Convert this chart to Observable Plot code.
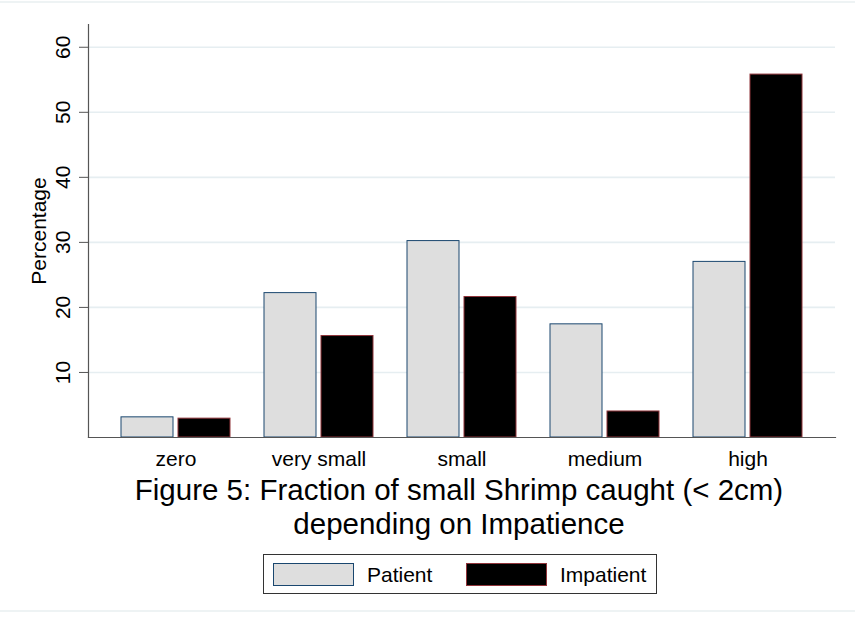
<!DOCTYPE html>
<html>
<head>
<meta charset="utf-8">
<script src="https://cdn.jsdelivr.net/npm/d3@7"></script>
<script src="https://cdn.jsdelivr.net/npm/@observablehq/plot@0.6"></script>
<style>
  html, body { margin: 0; padding: 0; background: #fff; }
  #wrap { position: relative; width: 855px; height: 625px; font-family: "Liberation Sans", Arial, sans-serif; overflow: hidden; }
  .edge { position: absolute; left: 0; width: 855px; height: 2px; background: #eef3f4; }
  #chart { position: absolute; left: 0; top: 0; }
  #chart svg { overflow: visible; }
  #title { position: absolute; left: 0; width: 918px; top: 473px; text-align: center; font-size: 29.5px; line-height: 34px; color: #000; }
  #legend { position: absolute; left: 263px; top: 554px; width: 392px; height: 38px; border: 1px solid #333; box-sizing: content-box; }
  .sw { position: absolute; top: 8px; width: 79px; height: 21px; }
  .lt { position: absolute; top: 8px; font-size: 21px; line-height: 23px; color: #000; }
</style>
</head>
<body>
<div id="wrap">
  <div class="edge" style="top:1px"></div>
  <div id="chart"></div>
  <div id="title"></div>
  <div id="legend"></div>
  <div class="edge" style="top:610px"></div>
</div>
<script>
const categories = ["zero", "very small", "small", "medium", "high"];
const patient = [3.1, 22.2, 30.2, 17.4, 27.0];
const impatient = [2.9, 15.6, 21.6, 4.0, 55.8];
const yTicks = [10, 20, 30, 40, 50, 60];
const seriesNames = ["Patient", "Impatient"];
const titleLines = ["Figure 5: Fraction of small Shrimp caught (< 2cm)", "depending on Impatience"];
const yLabel = "Percentage";

const rowsP = categories.map((c, i) => ({category: c, value: patient[i]}));
const rowsI = categories.map((c, i) => ({category: c, value: impatient[i]}));

const font = '"Liberation Sans", Arial, sans-serif';

const plot = Plot.plot({
  width: 855,
  height: 460,
  marginLeft: 88,
  marginRight: 20,
  marginTop: 24,
  marginBottom: 23,
  style: {fontFamily: font, fontSize: "21px", color: "#000", background: "transparent"},
  x: {domain: categories, paddingInner: 0.24, paddingOuter: 0.22, label: null},
  y: {domain: [0, 63.5], label: null},
  marks: [
    Plot.gridY(yTicks, {stroke: "#e6eef1", strokeOpacity: 1, strokeWidth: 1.6}),
    Plot.barY(rowsP, {x: "category", y: "value", fill: "#dedede", stroke: "#1a476f", strokeWidth: 1, insetLeft: 0, insetRight: 57}),
    Plot.barY(rowsI, {x: "category", y: "value", fill: "#000", stroke: "#90353b", strokeWidth: 1, insetLeft: 57, insetRight: 0}),
    Plot.axisX({tickSize: 0, tickPadding: 14, fontSize: 21, label: null}),
    Plot.axisY(yTicks, {tickSize: 9, tickFormat: () => "", stroke: "#555", label: null}),
    Plot.text(yTicks, {y: d => d, text: d => String(d), frameAnchor: "left", dx: -25, rotate: -90, textAnchor: "middle", lineAnchor: "middle", fontSize: 21, fill: "#000"}),
    Plot.text([yLabel], {frameAnchor: "left", dx: -49, rotate: -90, textAnchor: "middle", lineAnchor: "middle", fontSize: 21, fill: "#000"}),
    Plot.frame({anchor: "left", stroke: "#555", strokeWidth: 1.2}),
    Plot.frame({anchor: "bottom", stroke: "#555", strokeWidth: 1.2})
  ]
});
document.getElementById("chart").appendChild(plot);

document.getElementById("title").innerHTML = titleLines.map(t => t.replace(/&/g,"&amp;").replace(/</g,"&lt;")).join("<br>");

const legend = document.getElementById("legend");
const items = [
  {name: seriesNames[0], fill: "#dedede", stroke: "#1a476f", sx: 9, tx: 103},
  {name: seriesNames[1], fill: "#000", stroke: "#90353b", sx: 202, tx: 296}
];
for (const it of items) {
  const s = document.createElement("div");
  s.className = "sw";
  s.style.left = it.sx + "px";
  s.style.background = it.fill;
  s.style.border = "1px solid " + it.stroke;
  legend.appendChild(s);
  const t = document.createElement("div");
  t.className = "lt";
  t.style.left = it.tx + "px";
  t.textContent = it.name;
  legend.appendChild(t);
}
</script>
</body>
</html>
